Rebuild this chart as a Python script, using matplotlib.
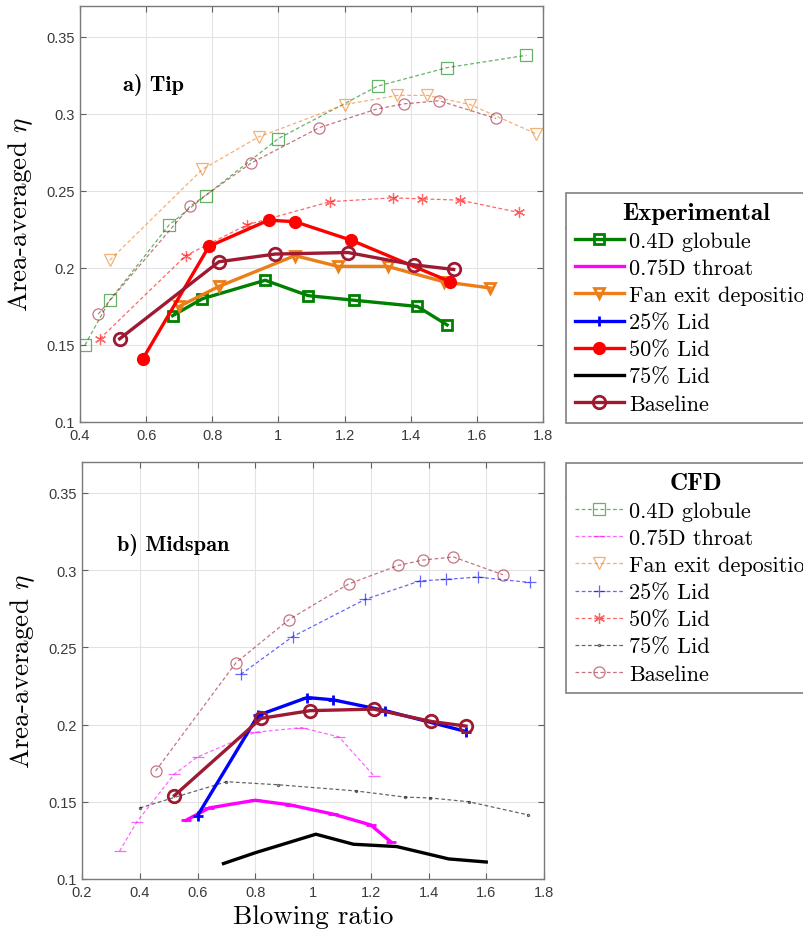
import matplotlib
matplotlib.use('Agg')
import matplotlib.pyplot as plt
from matplotlib.lines import Line2D
from matplotlib.font_manager import FontProperties

plt.rcParams['mathtext.fontset'] = 'cm'

# ---- a) Tip : experimental ----
tip_glob_x = [0.68, 0.77, 0.96, 1.09, 1.23, 1.42, 1.51]
tip_glob_y = [0.169, 0.180, 0.192, 0.182, 0.179, 0.175, 0.163]
tip_fan_x = [0.70, 0.82, 1.05, 1.18, 1.33, 1.50, 1.64]
tip_fan_y = [0.175, 0.188, 0.208, 0.201, 0.201, 0.191, 0.187]
tip_lid50_x = [0.59, 0.79, 0.97, 1.05, 1.22, 1.52]
tip_lid50_y = [0.141, 0.214, 0.231, 0.230, 0.218, 0.191]
base_x = [0.52, 0.82, 0.99, 1.21, 1.41, 1.53]
base_y = [0.154, 0.204, 0.209, 0.210, 0.202, 0.199]

# ---- a) Tip : CFD ----
tip_glob_cfd_x = [0.415, 0.49, 0.67, 0.78, 1.00, 1.30, 1.51, 1.75]
tip_glob_cfd_y = [0.150, 0.179, 0.228, 0.247, 0.284, 0.318, 0.330, 0.338]
tip_fan_cfd_x = [0.49, 0.77, 0.94, 1.20, 1.36, 1.45, 1.58, 1.78]
tip_fan_cfd_y = [0.205, 0.264, 0.285, 0.306, 0.312, 0.312, 0.306, 0.287]
tip_lid50_cfd_x = [0.46, 0.72, 0.905, 1.156, 1.346, 1.434, 1.549, 1.727]
tip_lid50_cfd_y = [0.154, 0.208, 0.228, 0.243, 0.2455, 0.2448, 0.244, 0.236]
base_cfd_x = [0.455, 0.733, 0.917, 1.123, 1.295, 1.38, 1.486, 1.658]
base_cfd_y = [0.170, 0.240, 0.268, 0.291, 0.303, 0.3065, 0.3085, 0.297]

# ---- b) Midspan : experimental ----
mid_lid25_x = [0.60, 0.81, 0.98, 1.07, 1.25, 1.53]
mid_lid25_y = [0.141, 0.206, 0.2175, 0.216, 0.209, 0.1955]
mid_throat_x = [0.56, 0.64, 0.80, 0.92, 1.07, 1.20, 1.27]
mid_throat_y = [0.138, 0.146, 0.151, 0.148, 0.142, 0.135, 0.124]
mid_lid75_x = [0.69, 0.80, 1.01, 1.14, 1.29, 1.47, 1.60]
mid_lid75_y = [0.110, 0.117, 0.129, 0.1225, 0.121, 0.113, 0.111]

# ---- b) Midspan : CFD ----
mid_lid25_cfd_x = [0.75, 0.93, 1.18, 1.37, 1.46, 1.57, 1.75]
mid_lid25_cfd_y = [0.2325, 0.257, 0.281, 0.293, 0.294, 0.2955, 0.292]
mid_throat_cfd_x = [0.33, 0.39, 0.52, 0.60, 0.80, 0.96, 1.09, 1.21]
mid_throat_cfd_y = [0.118, 0.137, 0.168, 0.179, 0.195, 0.198, 0.192, 0.167]
mid_lid75_cfd_x = [0.40, 0.70, 0.88, 1.15, 1.32, 1.405, 1.54, 1.745]
mid_lid75_cfd_y = [0.146, 0.163, 0.161, 0.157, 0.153, 0.1525, 0.150, 0.1415]

series_names = ['0.4D globule', '0.75D throat', 'Fan exit deposition',
                '25% Lid', '50% Lid', '75% Lid', 'Baseline']

colors = {'0.4D globule': '#008000', '0.75D throat': '#ff00ff',
          'Fan exit deposition': '#ec7d17', '25% Lid': '#0000ff',
          '50% Lid': '#ff0000', '75% Lid': '#000000', 'Baseline': '#9e1a32'}
markers = {'0.4D globule': 's', '0.75D throat': '_', 'Fan exit deposition': 'v',
           '25% Lid': '+', '50% Lid': 'o', '75% Lid': 'None', 'Baseline': 'o'}
cfd_markers = {'0.4D globule': 's', '0.75D throat': '_', 'Fan exit deposition': 'v',
               '25% Lid': '+', '50% Lid': (6, 2, 0), '75% Lid': '.', 'Baseline': 'o'}


def exp_style(name):
    c = colors[name]
    filled = name == '50% Lid'
    return dict(color=c, lw=2.4, marker=markers[name], ms=7.5 if name != 'Baseline' else 9,
                mfc=c if filled else 'none', mec=c, mew=2.0, zorder=3)


def cfd_style(name):
    c = colors[name]
    return dict(color=c, lw=0.9, ls=(0, (3, 2)), marker=cfd_markers[name],
                ms=8 if name != '75% Lid' else 3, mfc='none', mec=c, mew=0.9,
                alpha=0.6, zorder=2)


fig = plt.figure(figsize=(8.04, 9.37), dpi=100)
ax1 = fig.add_axes([80 / 804, 1 - 423 / 937, 463 / 804, 416 / 937])
ax2 = fig.add_axes([82 / 804, 1 - 880 / 937, 462 / 804, 417 / 937])

tick_font = FontProperties(family='Liberation Sans', size=10.5)
label_font = FontProperties(family='cmr10', size=19.5)
panel_font = FontProperties(family='cmb10', size=16)

# top panel
ax1.plot(tip_glob_cfd_x, tip_glob_cfd_y, **cfd_style('0.4D globule'))
ax1.plot(tip_fan_cfd_x, tip_fan_cfd_y, **cfd_style('Fan exit deposition'))
ax1.plot(tip_lid50_cfd_x, tip_lid50_cfd_y, **cfd_style('50% Lid'))
ax1.plot(base_cfd_x, base_cfd_y, **cfd_style('Baseline'))
ax1.plot(tip_glob_x, tip_glob_y, **exp_style('0.4D globule'))
ax1.plot(tip_fan_x, tip_fan_y, **exp_style('Fan exit deposition'))
ax1.plot(tip_lid50_x, tip_lid50_y, **exp_style('50% Lid'))
ax1.plot(base_x, base_y, **exp_style('Baseline'))
ax1.set_xticks([0.4, 0.6, 0.8, 1.0, 1.2, 1.4, 1.6, 1.8])
ax1.set_xticklabels(['0.4', '0.6', '0.8', '1', '1.2', '1.4', '1.6', '1.8'])
ax1.set_xlim(0.4, 1.8)
ax1.text(0.158, 0.8125, 'a) Tip', transform=ax1.transAxes, ha='center', va='center',
         fontproperties=panel_font)

# bottom panel
ax2.plot(base_cfd_x, base_cfd_y, **cfd_style('Baseline'))
ax2.plot(mid_lid25_cfd_x, mid_lid25_cfd_y, **cfd_style('25% Lid'))
ax2.plot(mid_throat_cfd_x, mid_throat_cfd_y, **cfd_style('0.75D throat'))
ax2.plot(mid_lid75_cfd_x, mid_lid75_cfd_y, **cfd_style('75% Lid'))
ax2.plot(mid_lid75_x, mid_lid75_y, **exp_style('75% Lid'))
ax2.plot(mid_throat_x, mid_throat_y, **exp_style('0.75D throat'))
ax2.plot(mid_lid25_x, mid_lid25_y, **exp_style('25% Lid'))
ax2.plot(base_x, base_y, **exp_style('Baseline'))
ax2.set_xticks([0.2, 0.4, 0.6, 0.8, 1.0, 1.2, 1.4, 1.6, 1.8])
ax2.set_xticklabels(['0.2', '0.4', '0.6', '0.8', '1', '1.2', '1.4', '1.6', '1.8'])
ax2.set_xlim(0.2, 1.8)
ax2.text(0.198, 0.803, 'b) Midspan', transform=ax2.transAxes, ha='center', va='center',
         fontproperties=panel_font)
ax2.set_xlabel('Blowing ratio', fontproperties=label_font, labelpad=4)

for ax in (ax1, ax2):
    ax.set_yticks([0.1, 0.15, 0.2, 0.25, 0.3, 0.35])
    ax.set_yticklabels(['0.1', '0.15', '0.2', '0.25', '0.3', '0.35'])
    ax.set_ylim(0.1, 0.37)
    ax.grid(True, color='#e3e3e3', lw=0.8)
    ax.set_axisbelow(True)
    ax.tick_params(direction='in', top=True, right=True, length=4, width=0.8,
                   color='#606060', labelcolor='#3a3a3a', pad=4)
    for lbl in ax.get_xticklabels() + ax.get_yticklabels():
        lbl.set_fontproperties(tick_font)
    for sp in ax.spines.values():
        sp.set_color('#7a7a7a')
        sp.set_linewidth(1.0)
    ax.set_ylabel('Area-averaged $\\eta$', fontproperties=label_font, labelpad=8)

# legends
exp_handles = [Line2D([], [], **exp_style(n)) for n in series_names]
cfd_handles = [Line2D([], [], **cfd_style(n)) for n in series_names]
leg_kw = dict(loc='upper left', bbox_transform=fig.transFigure,
              prop=FontProperties(family='cmr10', size=16),
              title_fontproperties=FontProperties(family='cmb10', size=18),
              frameon=True, fancybox=False, edgecolor='#808080', framealpha=1,
              borderaxespad=0, borderpad=0.4, labelspacing=0.34,
              handlelength=2.2, handletextpad=0.25)
leg1 = fig.legend(exp_handles, series_names, title='Experimental',
                  bbox_to_anchor=(566 / 804, 1 - 194 / 937), **leg_kw)
leg2 = fig.legend(cfd_handles, series_names, title='CFD',
                  bbox_to_anchor=(566 / 804, 1 - 464 / 937), **leg_kw)
for leg in (leg1, leg2):
    leg.get_frame().set_linewidth(1.2)

# separator line under each legend title
fig.canvas.draw()
inv = fig.transFigure.inverted()
for leg in (leg1, leg2):
    bb = leg.get_window_extent()
    tb = leg.get_title().get_window_extent()
    y = tb.y0 - 4
    (x0, yf), (x1, _) = inv.transform([(bb.x0, y), (bb.x1, y)])
    fig.add_artist(Line2D([x0, x1], [yf, yf], transform=fig.transFigure,
                          color='#808080', lw=1.2))

fig.savefig('out.png', dpi=100)
